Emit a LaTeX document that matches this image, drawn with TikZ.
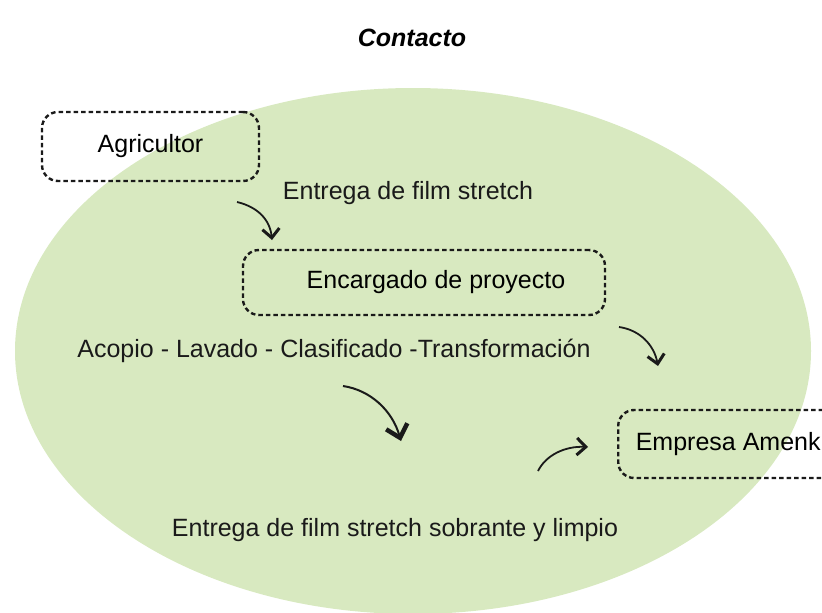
\documentclass[tikz,border=0pt]{standalone}
\usepackage{fontspec}
\setmainfont{Liberation Sans}
\usetikzlibrary{arrows.meta}
\definecolor{leaf}{HTML}{D8E9C0}
\definecolor{ink}{HTML}{1A1A1A}

\begin{document}
\begin{tikzpicture}[x=1pt,y=-1pt,>=Latex,
      actor/.style={draw=ink,line width=2.4pt,dash pattern=on 4.5pt off 3pt,rounded corners=16pt,
                    align=center,inner sep=0pt,font=\fontsize{25}{29}\selectfont},
      tag/.style={align=center,inner sep=0pt,font=\fontsize{25}{29}\selectfont,text=ink},
      flow/.style={-{Straight Barb[length=9pt,width=17pt,line width=3pt]},line width=1.8pt,draw=ink},
      bigflow/.style={-{Straight Barb[length=12pt,width=22pt,line width=4.5pt]},line width=2pt,draw=ink}]
    \clip (0,0) rectangle (822,613);
    \fill[leaf] (413,351) ellipse [x radius=398,y radius=263];
    \node[font=\fontsize{25}{29}\selectfont\bfseries\itshape] (title) at (412,38) {Contacto};
    \node[actor,minimum width=217pt,minimum height=69pt] (agri) at (150.5,146.5) {Agricultor};
    \node[actor,minimum width=362pt,minimum height=65pt] (jefe) at (424,282.5) {\hspace*{24pt}Encargado de proyecto};
    \node[actor,minimum width=236pt,minimum height=68pt,anchor=west] (amenk) at (617,444) {Empresa Amenk\hspace*{16pt}};
    \node[tag] (entrega) at (408,193) {Entrega de film stretch};
    \node[tag] (acopio) at (334,351) {Acopio - Lavado - Clasificado -Transformación};
    \node[tag] (sobrante) at (395,530) {Entrega de film stretch sobrante y limpio};
    \coordinate (a1) at (237,202);
    \coordinate (b1) at (272,240);
    \coordinate (a2) at (343,386);
    \coordinate (b2) at (401,441);
    \coordinate (a3) at (619,327);
    \coordinate (b3) at (658,366);
    \coordinate (a4) at (538,471);
    \coordinate (b4) at (588,447);
    \draw[flow] (a1) .. controls (258,207) and (270,220) .. (b1);
    \draw[bigflow] (a2) .. controls (370,390) and (392,410) .. (b2);
    \draw[flow] (a3) .. controls (640,330) and (654,345) .. (b3);
    \draw[flow] (a4) .. controls (546,455) and (565,446) .. (b4);
\end{tikzpicture}
\end{document}
